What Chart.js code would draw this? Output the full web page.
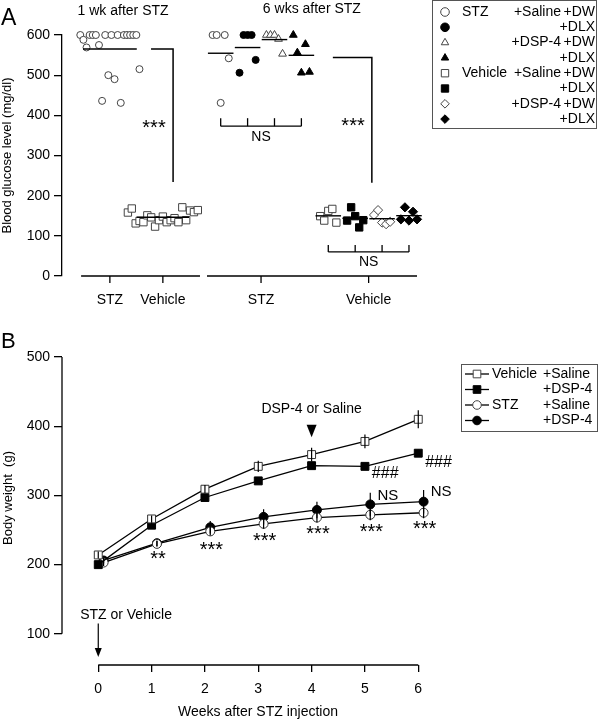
<!DOCTYPE html>
<html>
<head>
<meta charset="utf-8">
<script src="https://cdn.jsdelivr.net/npm/chart.js@4.4.1/dist/chart.umd.min.js"></script>
<style>
  html, body { margin: 0; padding: 0; background: #fff; }
  #wrap { position: relative; width: 600px; height: 724px; }
  #panelA { position: absolute; left: 0; top: 0; }
  #panelB { position: absolute; left: 0; top: 320px; }
</style>
</head>
<body>
<div id="wrap">
  <canvas id="panelA" width="600" height="320"></canvas>
  <canvas id="panelB" width="600" height="404"></canvas>
</div>
<script>
// ---------- Panel A: blood glucose (mg/dl) ----------
const wk1Stz = [600, 588, 569, 600, 600, 600, 575, 436, 600, 500, 600, 490, 600, 431, 600, 600, 600, 600, 600, 515];
const wk1Veh = [158, 168, 131, 137, 134, 151, 146, 123, 139, 148, 134, 139, 144, 134, 171, 139, 163, 159, 164];
const stzSalDW = [600, 600, 431, 600, 542];
const stzSalDLX = [506, 600, 600, 600, 538];
const stzDspDW = [600, 600, 600, 590, 553];
const stzDspDLX = [600, 556, 506, 577, 508];
const vehSalDW = [149, 138, 162, 167, 133];
const vehSalDLX = [138, 171, 149, 121, 139];
const vehDspDW = [152, 164, 133, 129, 135];
const vehDspDLX = [141, 171, 138, 160, 141];
const glucoseTicks = [0, 100, 200, 300, 400, 500, 600];
const xCatLabels = ['STZ', 'Vehicle', 'STZ', 'Vehicle'];
const periods = ['1 wk after STZ', '6 wks after STZ'];
const legendA1 = ['STZ', '', '', '', 'Vehicle', '', '', ''];
const legendA2 = ['+Saline', '', '+DSP-4', '', '+Saline', '', '+DSP-4', ''];
const legendA3 = ['+DW', '+DLX', '+DW', '+DLX', '+DW', '+DLX', '+DW', '+DLX'];

// ---------- Panel B: body weight (g) ----------
const weeks = [0, 1, 2, 3, 4, 5, 6];
const vehSaline = [214, 266, 309, 342, 359, 378, 410];
const vehDsp4 = [200, 257, 297, 321, 343, 342, 361];
const stzSaline = [203, 230, 248, 259, 268, 272, 275];
const stzDsp4 = [206, 231, 254, 269, 279, 287, 291];
const vehSalineErr = [5, 5, 6, 8, 10, 10, 13];
const vehDsp4Err = [4, 4, 4, 4, 4, 4, 5];
const stzSalineErr = [5, 4, 6, 7, 7, 8, 8];
const stzDsp4Err = [4, 4, 9, 11, 12, 17, 17];
const weightTicks = [100, 200, 300, 400, 500];
const starText = ['**', '***', '***', '***', '***', '***'];
const starY = [207, 221, 234, 244, 247, 251];
const hashY = [331, 347];
const nsY = [300, 305];

const FONT = "'Liberation Sans', Arial, sans-serif";
Chart.defaults.font.family = FONT;
Chart.defaults.font.size = 13;
Chart.defaults.color = '#000';

function mean(a) { return a.reduce((s, v) => s + v, 0) / a.length; }

function spread(vals, c, w) {
  const n = vals.length;
  return vals.map((v, i) => ({ x: c + (n > 1 ? (i / (n - 1) - 0.5) * w : 0), y: v }));
}

function seg(ctx, x1, y1, x2, y2) {
  ctx.beginPath(); ctx.moveTo(x1, y1); ctx.lineTo(x2, y2); ctx.stroke();
}

function poly(ctx, pts) {
  ctx.beginPath();
  pts.forEach((p, i) => i ? ctx.lineTo(p[0], p[1]) : ctx.moveTo(p[0], p[1]));
  ctx.stroke();
}

function label(ctx, s, x, y, size, align, base) {
  ctx.font = size + 'px ' + FONT;
  ctx.fillStyle = '#000';
  ctx.textAlign = align || 'center';
  ctx.textBaseline = base || 'middle';
  ctx.fillText(s, x, y);
}

function marker(ctx, style, filled, r, x, y) {
  ctx.fillStyle = filled ? '#000' : '#fff';
  ctx.strokeStyle = filled ? '#000' : '#444';
  ctx.lineWidth = 1;
  ctx.beginPath();
  if (style === 'circle') {
    ctx.arc(x, y, r, 0, Math.PI * 2);
  } else if (style === 'rect') {
    const h = Math.SQRT1_2 * r;
    ctx.rect(x - h, y - h, 2 * h, 2 * h);
  } else if (style === 'triangle') {
    ctx.moveTo(x, y - r);
    ctx.lineTo(x + 0.866 * r, y + r / 2);
    ctx.lineTo(x - 0.866 * r, y + r / 2);
    ctx.closePath();
  } else {
    ctx.moveTo(x, y - r); ctx.lineTo(x + r, y); ctx.lineTo(x, y + r); ctx.lineTo(x - r, y);
    ctx.closePath();
  }
  ctx.fill();
  ctx.stroke();
}

// group layout for panel A (x in slot units)
const groupsA = [
  { vals: wk1Stz, c: 0.88, w: 2.2, mw: 2.0, style: 'circle', filled: false, r: 3.5 },
  { vals: wk1Veh, c: 2.85, w: 2.6, mw: 1.95, style: 'rect', filled: false, r: 5.2 },
  { vals: stzSalDW, c: 5, w: 0.6, mw: 0.95, style: 'circle', filled: false, r: 3.5 },
  { vals: stzSalDLX, c: 6, w: 0.6, mw: 0.95, style: 'circle', filled: true, r: 3.5 },
  { vals: stzDspDW, c: 7, w: 0.6, mw: 0.95, style: 'triangle', filled: false, r: 4.5 },
  { vals: stzDspDLX, c: 8, w: 0.6, mw: 0.95, style: 'triangle', filled: true, r: 4.5 },
  { vals: vehSalDW, c: 9, w: 0.6, mw: 0.95, style: 'rect', filled: false, r: 5.2 },
  { vals: vehSalDLX, c: 10, w: 0.6, mw: 0.95, style: 'rect', filled: true, r: 5.2 },
  { vals: vehDspDW, c: 11, w: 0.6, mw: 0.95, style: 'rectRot', filled: false, r: 4.6 },
  { vals: vehDspDLX, c: 12, w: 0.6, mw: 0.95, style: 'rectRot', filled: true, r: 4.6 }
];
const catPosA = [0.88, 2.85, 6.5, 10.5];

const datasetsA = [];
groupsA.forEach(g => {
  const m = mean(g.vals);
  datasetsA.push({
    data: [{ x: g.c - g.mw / 2, y: m }, { x: g.c + g.mw / 2, y: m }],
    showLine: true, borderColor: '#000', borderWidth: 1.4, pointRadius: 0, clip: false
  });
  datasetsA.push({
    data: spread(g.vals, g.c, g.w),
    pointStyle: g.style, pointRadius: g.r,
    pointBackgroundColor: g.filled ? '#000' : '#fff',
    pointBorderColor: g.filled ? '#000' : '#444',
    pointBorderWidth: 1, clip: false
  });
});

const panelAExtras = {
  id: 'panelAExtras',
  afterDraw(chart) {
    const { ctx, scales: { x, y } } = chart;
    const X = v => x.getPixelForValue(v), Y = v => y.getPixelForValue(v);
    ctx.save();
    ctx.strokeStyle = '#000';
    ctx.lineWidth = 1.3;
    const base = Y(0);
    seg(ctx, X(-0.19), base, X(4.23), base);
    seg(ctx, X(4.49), base, X(12.3), base);
    catPosA.forEach((p, i) => {
      seg(ctx, X(p), base, X(p), base + 7);
      label(ctx, xCatLabels[i], X(p), base + 24, 14);
    });
    label(ctx, periods[0], X(1.37), 11, 14);
    label(ctx, periods[1], X(8.39), 9, 14);

    ctx.lineWidth = 1.5;
    poly(ctx, [[X(2.41), Y(565)], [X(3.23), Y(565)], [X(3.23), Y(234)]]);
    poly(ctx, [[X(9.17), Y(544)], [X(10.62), Y(544)], [X(10.62), Y(232)]]);
    label(ctx, '***', X(2.52), Y(368), 20);
    label(ctx, '***', X(9.92), Y(371), 20);

    ctx.lineWidth = 1.3;
    [[5, 6, 7, 8, 373, 8], [9, 10, 11, 12, 60, 7]].forEach(b => {
      const yy = Y(b[4]);
      seg(ctx, X(b[0]), yy, X(b[3]), yy);
      for (let k = 0; k < 4; k++) seg(ctx, X(b[k]), yy, X(b[k]), yy - b[5]);
    });
    label(ctx, 'NS', X(6.5), Y(346), 14);
    label(ctx, 'NS', X(10.5), Y(35), 14);

    // legend
    ctx.strokeStyle = '#555';
    ctx.lineWidth = 1;
    ctx.strokeRect(432.5, 0.5, 164, 128);
    legendA3.forEach((t, i) => {
      const yy = 12 + i * 15.3;
      const g = groupsA[i + 2];
      marker(ctx, g.style, g.filled, g.style === 'rect' ? 5.2 : 4.3, 445, yy);
      if (legendA1[i]) label(ctx, legendA1[i], 462, yy, 14, 'left');
      if (legendA2[i]) label(ctx, legendA2[i], 561, yy, 14, 'right');
      label(ctx, t, 595, yy, 14, 'right');
    });

    label(ctx, 'A', 1, 25, 23, 'left', 'alphabetic');
    ctx.restore();
  }
};

new Chart(document.getElementById('panelA'), {
  type: 'scatter',
  data: { datasets: datasetsA },
  options: {
    responsive: false,
    animation: false,
    events: [],
    layout: { padding: { left: 0, top: 35, right: 180, bottom: 44 } },
    plugins: { legend: { display: false }, tooltip: { enabled: false } },
    scales: {
      x: { type: 'linear', display: false, min: -0.9, max: 12.41 },
      y: {
        min: 0, max: 600,
        afterBuildTicks: s => { s.ticks = glucoseTicks.map(v => ({ value: v })); },
        ticks: { padding: 4, font: { size: 14 }, color: '#000' },
        grid: { drawOnChartArea: false, drawTicks: true, tickLength: 8, color: '#000', lineWidth: 1.3 },
        border: { display: true, color: '#000', width: 1.3 },
        title: { display: true, text: 'Blood glucose level (mg/dl)', font: { size: 13 }, color: '#000', padding: { top: 0, bottom: 0 } },
        afterFit: s => { s.width = 62; }
      }
    }
  },
  plugins: [panelAExtras]
});

// ---------- Panel B ----------
const seriesB = [
  { name: 'Vehicle', sub: '+Saline', vals: vehSaline, err: vehSalineErr, dx: 0, style: 'rect', filled: false, r: 5.6 },
  { name: '', sub: '+DSP-4', vals: vehDsp4, err: vehDsp4Err, dx: 0, style: 'rect', filled: true, r: 5.6 },
  { name: 'STZ', sub: '+Saline', vals: stzSaline, err: stzSalineErr, dx: 0.1, style: 'circle', filled: false, r: 4.5 },
  { name: '', sub: '+DSP-4', vals: stzDsp4, err: stzDsp4Err, dx: 0.1, style: 'circle', filled: true, r: 4.5 }
];

const datasetsB = seriesB.map(s => ({
  data: s.vals.map((v, i) => ({ x: weeks[i] + s.dx, y: v })),
  showLine: true, borderColor: '#000', borderWidth: 1.3,
  pointStyle: s.style, pointRadius: s.r,
  pointBackgroundColor: s.filled ? '#000' : '#fff',
  pointBorderColor: s.filled ? '#000' : '#333',
  pointBorderWidth: 1, clip: false
}));

const panelBExtras = {
  id: 'panelBExtras',
  afterDatasetsDraw(chart) {
    const { ctx, scales: { x, y } } = chart;
    ctx.save();
    ctx.strokeStyle = '#000';
    ctx.lineWidth = 1.2;
    seriesB.forEach(s => {
      s.vals.forEach((v, i) => {
        const px = x.getPixelForValue(weeks[i] + s.dx);
        seg(ctx, px, y.getPixelForValue(v + s.err[i]), px, y.getPixelForValue(v - s.err[i]));
      });
    });
    ctx.restore();
  },
  afterDraw(chart) {
    const { ctx, chartArea: area, scales: { x, y } } = chart;
    const X = v => x.getPixelForValue(v), Y = v => y.getPixelForValue(v);
    ctx.save();
    ctx.strokeStyle = '#000';
    ctx.lineWidth = 1.3;
    seg(ctx, area.left, Y(weightTicks[0]), area.left, Y(weightTicks[weightTicks.length - 1]));
    seg(ctx, X(weeks[0]), area.bottom, X(weeks[weeks.length - 1]), area.bottom);

    // y title
    ctx.save();
    ctx.translate(8, 178);
    ctx.rotate(-Math.PI / 2);
    label(ctx, 'Body weight  (g)', 0, 0, 13);
    ctx.restore();

    // STZ or Vehicle arrow
    label(ctx, 'STZ or Vehicle', X(-0.34), Y(127), 14, 'left');
    ctx.lineWidth = 1.2;
    seg(ctx, X(0), Y(115), X(0), Y(70));
    ctx.fillStyle = '#000';
    ctx.beginPath();
    ctx.moveTo(X(0) - 3.5, Y(66.5) - 9); ctx.lineTo(X(0) + 3.5, Y(66.5) - 9); ctx.lineTo(X(0), Y(66.5));
    ctx.closePath(); ctx.fill();

    // DSP-4 or Saline marker
    label(ctx, 'DSP-4 or Saline', X(4), Y(425), 14);
    ctx.beginPath();
    ctx.moveTo(X(4) - 5, Y(402)); ctx.lineTo(X(4) + 5, Y(402)); ctx.lineTo(X(4), Y(384));
    ctx.closePath(); ctx.fill();

    starText.forEach((t, i) => label(ctx, t, X(weeks[i + 1] + 0.12), Y(starY[i]), 20));
    hashY.forEach((v, i) => label(ctx, '###', X(weeks[5 + i] + 0.38), Y(v), 16));
    nsY.forEach((v, i) => label(ctx, 'NS', X(weeks[5 + i] + 0.43), Y(v), 15));

    // legend
    ctx.strokeStyle = '#555';
    ctx.lineWidth = 1;
    ctx.strokeRect(461.5, 44.5, 136, 67);
    seriesB.forEach((s, i) => {
      const yy = 54 + i * 15.5;
      ctx.strokeStyle = '#000';
      ctx.lineWidth = 1.3;
      seg(ctx, 465, yy, 489, yy);
      marker(ctx, s.style, s.filled, s.style === 'rect' ? 5.4 : 4.3, 477, yy);
      if (s.name) label(ctx, s.name, 492, yy, 14, 'left');
      label(ctx, s.sub, 543, yy, 14, 'left');
    });

    label(ctx, 'B', 1, 28, 22, 'left', 'alphabetic');
    ctx.restore();
  }
};

new Chart(document.getElementById('panelB'), {
  type: 'scatter',
  data: { datasets: datasetsB },
  options: {
    responsive: false,
    animation: false,
    events: [],
    layout: { padding: { left: 0, top: 37, right: 146, bottom: 0 } },
    plugins: { legend: { display: false }, tooltip: { enabled: false } },
    scales: {
      x: {
        type: 'linear', min: -0.68, max: 6.67,
        afterBuildTicks: s => { s.ticks = weeks.map(v => ({ value: v })); },
        ticks: { padding: 9, font: { size: 14 }, color: '#000' },
        grid: { drawOnChartArea: false, drawTicks: true, tickLength: 7, color: '#000', lineWidth: 1.3 },
        border: { display: false },
        title: { display: true, text: 'Weeks after STZ injection', font: { size: 14 }, color: '#000', padding: { top: 0, bottom: 3 } },
        afterFit: s => { s.height = 59; }
      },
      y: {
        min: 55, max: 500,
        afterBuildTicks: s => { s.ticks = weightTicks.map(v => ({ value: v })); },
        ticks: { padding: 4, font: { size: 14 }, color: '#000' },
        grid: { drawOnChartArea: false, drawTicks: true, tickLength: 8, color: '#000', lineWidth: 1.3 },
        border: { display: false },
        afterFit: s => { s.width = 62; }
      }
    }
  },
  plugins: [panelBExtras]
});
</script>
</body>
</html>
